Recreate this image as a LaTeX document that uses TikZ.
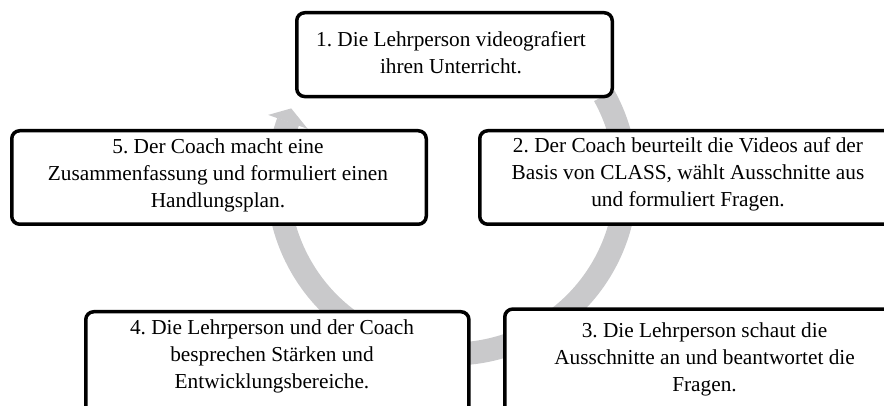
\documentclass[tikz,border=0pt]{standalone}
\usepackage{fontspec}
\setmainfont{Liberation Serif}
\definecolor{arcgray}{RGB}{201,201,203}
\begin{document}
\frenchspacing
\begin{tikzpicture}[x=1pt,y=1pt,
  boxsty/.style={draw=black, line width=3.5pt, fill=white, rounded corners=8pt, inner sep=0pt, outer sep=0pt},
  txt/.style={align=center, inner sep=0pt, font=\fontsize{21.3}{27}\selectfont},
  band/.style={draw=arcgray, line width=23pt}]
\useasboundingbox (0,0) rectangle (884,406);
% circular arrow
\coordinate (c) at (452,226);
\draw[band] (c) ++(29:174) arc[start angle=29, end angle=-199.6, radius=174];
\fill[arcgray, shift={(c)}] (160.5:195) -- (156:176) -- (160.5:153) -- cycle;
% boxes
\node[boxsty, minimum width=315.5pt, minimum height=83.8pt] (b1) at (454.5,351.35) {};
\node[boxsty, minimum width=416.5pt, minimum height=93.5pt] (b2) at (688,228.5) {};
\node[boxsty, minimum width=399.5pt, minimum height=108.95pt] (b3) at (704.5,42.475) {};
\node[boxsty, minimum width=383.2pt, minimum height=106.25pt] (b4) at (277.35,41.125) {};
\node[boxsty, minimum width=414.5pt, minimum height=93.5pt] (b5) at (219,228.5) {};
% texts
\node[txt] (t1) at (451,351.05) {\strut 1. Die Lehrperson videografiert\\\strut ihren Unterricht.};
\node[txt] (t2) at (688,231.75) {\strut 2. Der Coach beurteilt die Videos auf der\\\strut Basis von CLASS, wählt Ausschnitte aus\\\strut und formuliert Fragen.};
\node[txt] (t3) at (704.5,46.4) {\strut 3. Die Lehrperson schaut die\\\strut Ausschnitte an und beantwortet die\\\strut Fragen.};
\node[txt] (t4) at (272,49.75) {\strut 4. Die Lehrperson und der Coach\\\strut besprechen Stärken und\\\strut Entwicklungsbereiche.};
\node[txt] (t5) at (218,231.05) {\strut 5. Der Coach macht eine\\\strut Zusammenfassung und formuliert einen\\\strut Handlungsplan.};
\end{tikzpicture}
\end{document}
